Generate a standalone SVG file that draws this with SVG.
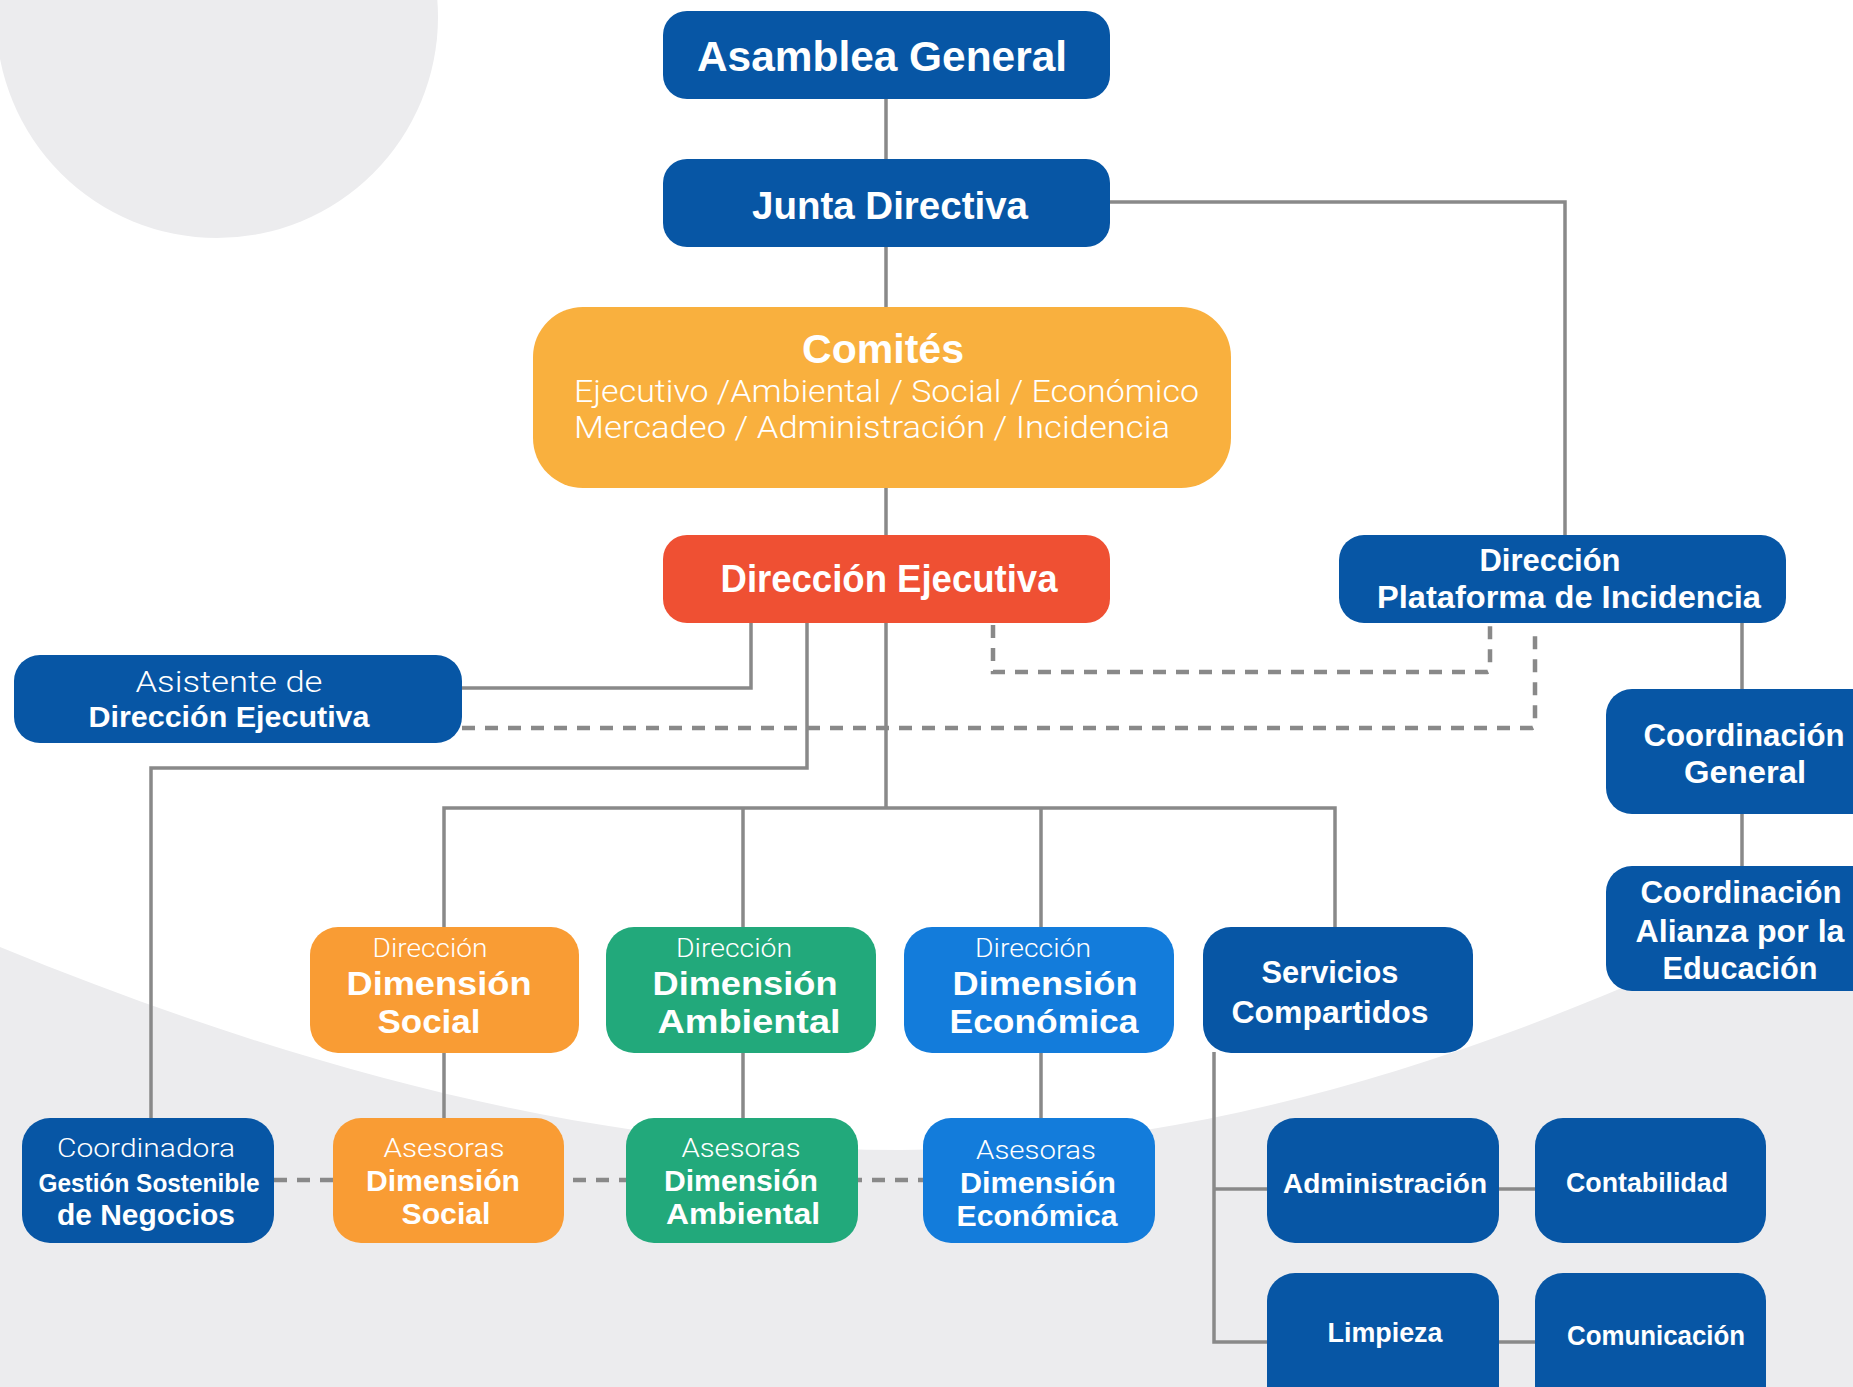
<svg xmlns="http://www.w3.org/2000/svg" width="1853" height="1387" viewBox="0 0 1853 1387">
<style>
.t{font-family:'Liberation Sans',Arial,sans-serif;font-weight:700;fill:#fff;text-anchor:middle}
.lt{font-family:Roboto,'Liberation Sans',sans-serif;font-weight:300}
.dk{fill:#0756a5}
.ln{fill:none;stroke:#898989;stroke-width:3.5}
.ds{fill:none;stroke:#898989;stroke-width:4.5;stroke-dasharray:13 10}
</style>
<rect width="1853" height="1387" fill="#fff"/>
<g id="background">
<circle cx="217" cy="17" r="221" fill="#ececee"/>
<path d="M0,947 C300,1070 600,1150 900,1150 C1200,1150 1500,1060 1853,880 L1853,1387 L0,1387 Z" fill="#ececee"/>
</g>
<g id="connectors">
<path class="ln" d="M886,99V160M886,247V307M886,488V535"/>
<path class="ln" d="M1110,202H1565V535"/>
<path class="ln" d="M751,623V688H462"/>
<path class="ln" d="M886,623V808M444,928V808H1335V928M743,808V928M1041,808V928"/>
<path class="ln" d="M807,623V768H151V1119"/>
<path class="ds" d="M993,625V672H1486Q1490,672 1490,668V625"/>
<path class="ds" d="M462,728H1531Q1535,728 1535,724V636"/>
<path class="ln" d="M1742,623V689M1742,814V866"/>
<path class="ln" d="M444,1052V1119M743,1052V1119M1041,1052V1119"/>
<path class="ds" d="M274,1180H923"/>
<path class="ln" d="M1214,1052V1342H1267M1214,1189H1267M1499,1189H1535M1499,1342H1535"/>
</g>
<g id="asamblea">
<rect class="dk" x="663" y="11" width="447" height="88" rx="24"/>
<text class="t" x="882" y="71" font-size="42" textLength="370" lengthAdjust="spacingAndGlyphs">Asamblea General</text>
</g>
<g id="junta">
<rect class="dk" x="663" y="159" width="447" height="88" rx="24"/>
<text class="t" x="890" y="219" font-size="39" textLength="276" lengthAdjust="spacingAndGlyphs">Junta Directiva</text>
</g>
<g id="comites">
<rect x="533" y="307" width="698" height="181" rx="50" fill="#f9b03e"/>
<text class="t" x="883" y="363" font-size="40" textLength="162" lengthAdjust="spacingAndGlyphs">Comités</text>
<text class="t lt" x="574" y="402" font-size="30.5" style="text-anchor:start" textLength="625" lengthAdjust="spacingAndGlyphs">Ejecutivo /Ambiental / Social / Económico</text>
<text class="t lt" x="574" y="438" font-size="30.5" style="text-anchor:start" textLength="596" lengthAdjust="spacingAndGlyphs">Mercadeo / Administración  / Incidencia</text>
</g>
<g id="direccion-ejecutiva">
<rect x="663" y="535" width="447" height="88" rx="24" fill="#ef5033"/>
<text class="t" x="889" y="592" font-size="38" textLength="337" lengthAdjust="spacingAndGlyphs">Dirección Ejecutiva</text>
</g>
<g id="plataforma">
<rect class="dk" x="1339" y="535" width="447" height="88" rx="25"/>
<text class="t" x="1550" y="571" font-size="32" textLength="141" lengthAdjust="spacingAndGlyphs">Dirección</text>
<text class="t" x="1569" y="608" font-size="32" textLength="384" lengthAdjust="spacingAndGlyphs">Plataforma de Incidencia</text>
</g>
<g id="asistente">
<rect class="dk" x="14" y="655" width="448" height="88" rx="26"/>
<text class="t lt" x="229" y="692" font-size="30" textLength="187" lengthAdjust="spacingAndGlyphs">Asistente de</text>
<text class="t" x="229" y="727" font-size="30" textLength="281" lengthAdjust="spacingAndGlyphs">Dirección Ejecutiva</text>
</g>
<g id="coord-general">
<rect class="dk" x="1606" y="689" width="280" height="125" rx="26"/>
<text class="t" x="1744" y="746" font-size="31" textLength="201" lengthAdjust="spacingAndGlyphs">Coordinación</text>
<text class="t" x="1745" y="783" font-size="31" textLength="122" lengthAdjust="spacingAndGlyphs">General</text>
</g>
<g id="coord-alianza">
<rect class="dk" x="1606" y="866" width="280" height="125" rx="26"/>
<text class="t" x="1741" y="903" font-size="31" textLength="201" lengthAdjust="spacingAndGlyphs">Coordinación</text>
<text class="t" x="1740" y="942" font-size="31" textLength="209" lengthAdjust="spacingAndGlyphs">Alianza por la</text>
<text class="t" x="1740" y="979" font-size="31" textLength="155" lengthAdjust="spacingAndGlyphs">Educación</text>
</g>
<g id="dir-social">
<rect x="310" y="927" width="269" height="126" rx="28" fill="#f99c34"/>
<text class="t lt" x="430" y="957" font-size="25" textLength="115" lengthAdjust="spacingAndGlyphs">Dirección</text>
<text class="t" x="439" y="995" font-size="33" textLength="185" lengthAdjust="spacingAndGlyphs">Dimensión</text>
<text class="t" x="429" y="1033" font-size="33" textLength="103" lengthAdjust="spacingAndGlyphs">Social</text>
</g>
<g id="dir-ambiental">
<rect x="606" y="927" width="270" height="126" rx="28" fill="#22a97b"/>
<text class="t lt" x="734" y="957" font-size="25" textLength="116" lengthAdjust="spacingAndGlyphs">Dirección</text>
<text class="t" x="745" y="995" font-size="33" textLength="185" lengthAdjust="spacingAndGlyphs">Dimensión</text>
<text class="t" x="749" y="1033" font-size="33" textLength="183" lengthAdjust="spacingAndGlyphs">Ambiental</text>
</g>
<g id="dir-economica">
<rect x="904" y="927" width="270" height="126" rx="28" fill="#137cdb"/>
<text class="t lt" x="1033" y="957" font-size="25" textLength="116" lengthAdjust="spacingAndGlyphs">Dirección</text>
<text class="t" x="1045" y="995" font-size="33" textLength="185" lengthAdjust="spacingAndGlyphs">Dimensión</text>
<text class="t" x="1044" y="1033" font-size="33" textLength="189" lengthAdjust="spacingAndGlyphs">Económica</text>
</g>
<g id="servicios">
<rect class="dk" x="1203" y="927" width="270" height="126" rx="28"/>
<text class="t" x="1330" y="983" font-size="32" textLength="137" lengthAdjust="spacingAndGlyphs">Servicios</text>
<text class="t" x="1330" y="1023" font-size="32" textLength="197" lengthAdjust="spacingAndGlyphs">Compartidos</text>
</g>
<g id="coordinadora">
<rect class="dk" x="22" y="1118" width="252" height="125" rx="28"/>
<text class="t lt" x="146" y="1157" font-size="26" textLength="178" lengthAdjust="spacingAndGlyphs">Coordinadora</text>
<text class="t" x="149" y="1192" font-size="25" textLength="221" lengthAdjust="spacingAndGlyphs">Gestión Sostenible</text>
<text class="t" x="146" y="1225" font-size="30" textLength="178" lengthAdjust="spacingAndGlyphs">de Negocios</text>
</g>
<g id="asesoras-social">
<rect x="333" y="1118" width="231" height="125" rx="28" fill="#f99c34"/>
<text class="t lt" x="444" y="1157" font-size="26" textLength="121" lengthAdjust="spacingAndGlyphs">Asesoras</text>
<text class="t" x="443" y="1191" font-size="29" textLength="154" lengthAdjust="spacingAndGlyphs">Dimensión</text>
<text class="t" x="446" y="1224" font-size="29" textLength="89" lengthAdjust="spacingAndGlyphs">Social</text>
</g>
<g id="asesoras-ambiental">
<rect x="626" y="1118" width="232" height="125" rx="28" fill="#22a97b"/>
<text class="t lt" x="741" y="1157" font-size="26" textLength="119" lengthAdjust="spacingAndGlyphs">Asesoras</text>
<text class="t" x="741" y="1191" font-size="29" textLength="154" lengthAdjust="spacingAndGlyphs">Dimensión</text>
<text class="t" x="743" y="1224" font-size="29" textLength="154" lengthAdjust="spacingAndGlyphs">Ambiental</text>
</g>
<g id="asesoras-economica">
<rect x="923" y="1118" width="232" height="125" rx="28" fill="#137cdb"/>
<text class="t lt" x="1036" y="1159" font-size="26" textLength="120" lengthAdjust="spacingAndGlyphs">Asesoras</text>
<text class="t" x="1038" y="1193" font-size="29" textLength="156" lengthAdjust="spacingAndGlyphs">Dimensión</text>
<text class="t" x="1037" y="1226" font-size="29" textLength="161" lengthAdjust="spacingAndGlyphs">Económica</text>
</g>
<g id="administracion">
<rect class="dk" x="1267" y="1118" width="232" height="125" rx="28"/>
<text class="t" x="1385" y="1193" font-size="27" textLength="204" lengthAdjust="spacingAndGlyphs">Administración</text>
</g>
<g id="contabilidad">
<rect class="dk" x="1535" y="1118" width="231" height="125" rx="28"/>
<text class="t" x="1647" y="1192" font-size="27" textLength="162" lengthAdjust="spacingAndGlyphs">Contabilidad</text>
</g>
<g id="limpieza">
<rect class="dk" x="1267" y="1273" width="232" height="150" rx="28"/>
<text class="t" x="1385" y="1342" font-size="27" textLength="115" lengthAdjust="spacingAndGlyphs">Limpieza</text>
</g>
<g id="comunicacion">
<rect class="dk" x="1535" y="1273" width="231" height="150" rx="28"/>
<text class="t" x="1656" y="1345" font-size="27" textLength="178" lengthAdjust="spacingAndGlyphs">Comunicación</text>
</g>
</svg>
